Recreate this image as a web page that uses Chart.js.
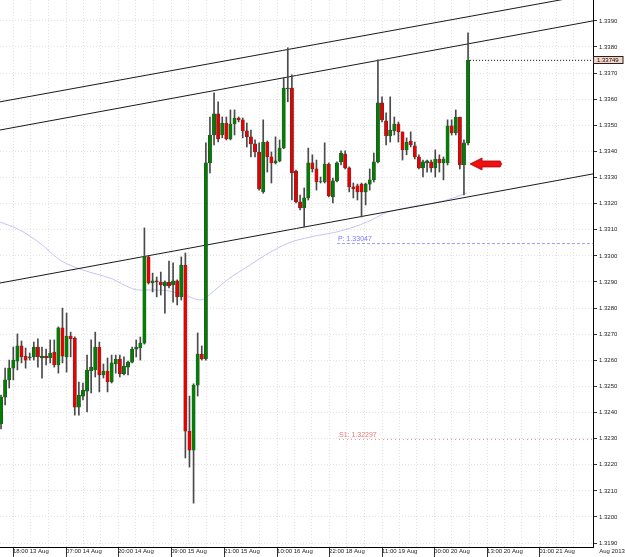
<!DOCTYPE html>
<html>
<head>
<meta charset="utf-8">
<script src="https://cdn.jsdelivr.net/npm/chart.js@4.4.0/dist/chart.umd.min.js"></script>
<style>
  body { margin: 0; background: #fff; }
</style>
</head>
<body>
<canvas id="myChart" width="625" height="557"></canvas>
<script>
// hourly EURUSD-like candles
const opens = [1.32356,1.32459,1.32525,1.32570,1.32597,1.32655,1.32616,1.32609,1.32613,1.32651,
  1.32609,1.32616,1.32609,1.32632,1.32582,1.32724,1.32613,1.32693,1.32685,1.32421,
  1.32463,1.32482,1.32559,1.32563,1.32651,1.32544,1.32559,1.32517,1.32586,1.32605,
  1.32548,1.32574,1.32593,1.32643,1.32647,1.32666,1.32996,1.32896,1.32904,1.32900,
  1.32885,1.32900,1.32889,1.32904,1.32843,1.32965,1.32329,1.32256,1.32505,1.32624,
  1.32605,1.33356,1.33463,1.33544,1.33463,1.33509,1.33448,1.33505,1.33528,1.33521,
  1.33479,1.33456,1.33429,1.33398,1.33245,1.33436,1.33379,1.33356,1.33364,1.33413,
  1.33639,1.33643,1.33325,1.33207,1.33184,1.33222,1.33356,1.33333,1.33283,1.33283,
  1.33352,1.33226,1.33287,1.33360,1.33390,1.33337,1.33264,1.33268,1.33275,1.33245,
  1.33275,1.33291,1.33360,1.33586,1.33517,1.33459,1.33479,1.33505,1.33475,1.33406,
  1.33440,1.33421,1.33379,1.33337,1.33356,1.33360,1.33337,1.33371,1.33356,1.33356,
  1.33498,1.33471,1.33532,1.33348,1.33433]
const closes = [1.32459,1.32525,1.32570,1.32601,1.32655,1.32613,1.32601,1.32613,1.32651,1.32613,
  1.32616,1.32609,1.32628,1.32582,1.32724,1.32616,1.32693,1.32682,1.32421,1.32467,
  1.32486,1.32563,1.32574,1.32651,1.32544,1.32559,1.32517,1.32590,1.32605,1.32548,
  1.32578,1.32593,1.32643,1.32651,1.32666,1.32996,1.32896,1.32904,1.32900,1.32889,
  1.32900,1.32885,1.32904,1.32843,1.32965,1.32329,1.32256,1.32505,1.32624,1.32605,
  1.33356,1.33463,1.33544,1.33448,1.33509,1.33448,1.33505,1.33528,1.33521,1.33479,
  1.33456,1.33429,1.33398,1.33256,1.33436,1.33379,1.33356,1.33364,1.33413,1.33643,
  1.33643,1.33318,1.33207,1.33184,1.33222,1.33356,1.33333,1.33283,1.33285,1.33352,
  1.33230,1.33287,1.33356,1.33394,1.33337,1.33264,1.33256,1.33245,1.33245,1.33275,
  1.33291,1.33360,1.33586,1.33521,1.33459,1.33482,1.33505,1.33475,1.33406,1.33436,
  1.33425,1.33379,1.33337,1.33360,1.33364,1.33337,1.33371,1.33356,1.33371,1.33498,
  1.33471,1.33532,1.33348,1.33433,1.33749]
const highs = [1.32467,1.32570,1.32601,1.32651,1.32701,1.32674,1.32647,1.32628,1.32670,1.32682,
  1.32651,1.32643,1.32678,1.32678,1.32728,1.32800,1.32781,1.32708,1.32690,1.32517,
  1.32513,1.32620,1.32678,1.32708,1.32670,1.32586,1.32609,1.32620,1.32620,1.32620,
  1.32613,1.32597,1.32651,1.32678,1.32689,1.33107,1.33000,1.32934,1.32919,1.32938,
  1.32904,1.32980,1.32973,1.32908,1.32996,1.33011,1.32463,1.32510,1.32705,1.32655,
  1.33433,1.33532,1.33624,1.33590,1.33532,1.33532,1.33559,1.33559,1.33532,1.33528,
  1.33509,1.33482,1.33444,1.33433,1.33521,1.33440,1.33398,1.33456,1.33444,1.33682,
  1.33797,1.33693,1.33329,1.33233,1.33260,1.33413,1.33387,1.33367,1.33302,1.33433,
  1.33356,1.33298,1.33360,1.33402,1.33402,1.33341,1.33279,1.33275,1.33279,1.33279,
  1.33333,1.33394,1.33751,1.33609,1.33548,1.33609,1.33532,1.33513,1.33475,1.33452,
  1.33475,1.33436,1.33387,1.33367,1.33367,1.33367,1.33406,1.33387,1.33379,1.33521,
  1.33521,1.33559,1.33532,1.33444,1.33854]
const lows = [1.32337,1.32429,1.32494,1.32525,1.32563,1.32590,1.32570,1.32601,1.32601,1.32574,
  1.32532,1.32582,1.32590,1.32574,1.32551,1.32590,1.32555,1.32613,1.32390,1.32390,
  1.32448,1.32402,1.32475,1.32536,1.32479,1.32532,1.32479,1.32513,1.32551,1.32536,
  1.32544,1.32544,1.32590,1.32613,1.32601,1.32662,1.32892,1.32862,1.32843,1.32850,
  1.32781,1.32877,1.32823,1.32812,1.32831,1.32226,1.32191,1.32053,1.32463,1.32601,
  1.32601,1.33318,1.33425,1.33436,1.33452,1.33444,1.33444,1.33463,1.33513,1.33452,
  1.33417,1.33379,1.33379,1.33252,1.33240,1.33321,1.33279,1.33352,1.33360,1.33410,
  1.33590,1.33214,1.33203,1.33176,1.33111,1.33214,1.33321,1.33252,1.33279,1.33279,
  1.33226,1.33203,1.33283,1.33348,1.33333,1.33245,1.33222,1.33214,1.33149,1.33195,
  1.33252,1.33283,1.33356,1.33513,1.33425,1.33436,1.33463,1.33436,1.33367,1.33387,
  1.33417,1.33371,1.33333,1.33302,1.33321,1.33321,1.33302,1.33321,1.33291,1.33348,
  1.33463,1.33463,1.33333,1.33233,1.33425]

// moving average (light lavender curve), sampled points: bar position / price
const maPos = [-0.3, 4.6, 9.5, 14.4, 20, 26.6, 33.9, 38.8, 44.9, 48.6, 52.2, 55.2, 60.8, 64.5, 70.1, 75.4, 82.8, 89.4, 93.8, 99.9, 107.9, 113.8]
const maValues = [1.33130, 1.33099, 1.33049, 1.32984, 1.32946, 1.32915, 1.32869, 1.32869, 1.32850, 1.32831, 1.32869,
  1.32908, 1.32965, 1.33003, 1.33049, 1.33072, 1.33095, 1.33130, 1.33164, 1.33187, 1.33210, 1.33241]

// channel lines: [start bar, start price, end bar, end price]
const channelTop = [-0.25, 1.33590, 144.5, 1.34003]
const channelMid = [-0.25, 1.33482, 144.5, 1.33900]
const channelLow = [-0.25, 1.32896, 144.5, 1.33314]

const pivot = 1.33047
const support1 = 1.32297
const pivotFrom = 82
const support1From = 82.5

const xLabels = ['18:00 13 Aug', '07:00 14 Aug', '20:00 14 Aug', '09:00 15 Aug', '21:00 15 Aug', '10:00 16 Aug',
  '22:00 18 Aug', '11:00 19 Aug', '00:00 20 Aug', '13:00 20 Aug', '01:00 21 Aug', 'Aug 2013']
const xLabelPos = [2.93, 15.87, 28.56, 41.5, 54.44, 67.38, 80.08, 93.02, 105.7, 118.65, 131.35, 146.0]

const lastBar = opens.length - 1
const lastPrice = closes[lastBar]

// ticks: each label plus two dotted grid lines between labels
let xTicks = []
let xTickText = []
let xTickMain = []
for (let k = 0; k < xLabelPos.length - 1; k++) {
  let step = k < xLabelPos.length - 2 ? xLabelPos[k + 1] - xLabelPos[k] : xLabelPos[k] - xLabelPos[k - 1]
  for (let j = 0; j < 3; j++) {
    xTicks.push(xLabelPos[k] + step * j / 3)
    xTickText.push(j == 0 ? xLabels[k] : '')
    xTickMain.push(j == 0)
  }
}
xTicks.push(xLabelPos[xLabelPos.length - 1])
xTickText.push(xLabels[xLabels.length - 1])
xTickMain.push(false)

const bodies = opens.map((o, i) => ({ x: i, y: [o, closes[i]] }))
const wicks = lows.map((l, i) => ({ x: i, y: [l, highs[i]] }))
const bodyColors = opens.map((o, i) => closes[i] >= o ? '#008000' : '#ea0000')

const seg = a => [{ x: a[0], y: a[1] }, { x: a[2], y: a[3] }]

Chart.defaults.font.family = "'Liberation Sans', Arial, sans-serif"

const overlay = {
  id: 'overlay',
  afterDatasetsDraw(chart) {
    const ctx = chart.ctx
    const x = chart.scales.x
    const y = chart.scales.y
    ctx.save()
    ctx.font = "7px 'Liberation Sans', Arial, sans-serif"
    ctx.textBaseline = 'bottom'
    ctx.fillStyle = '#7878ff'
    ctx.fillText('P: ' + pivot.toFixed(5), x.getPixelForValue(pivotFrom) + 1, y.getPixelForValue(pivot) - 1)
    ctx.fillStyle = '#f07878'
    ctx.fillText('S1: ' + support1.toFixed(5), x.getPixelForValue(support1From), y.getPixelForValue(support1) - 1)

    // red arrow pointing at the last hours
    let ax = x.getPixelForValue(lastBar) + 2
    let ay = y.getPixelForValue(1.33352)
    ctx.beginPath()
    ctx.moveTo(ax, ay)
    ctx.lineTo(ax + 12, ay - 6)
    ctx.lineTo(ax + 12, ay - 3)
    ctx.lineTo(ax + 30, ay - 3)
    ctx.quadraticCurveTo(ax + 33, ay, ax + 30, ay + 3)
    ctx.lineTo(ax + 12, ay + 3)
    ctx.lineTo(ax + 12, ay + 6)
    ctx.closePath()
    ctx.fillStyle = '#ee1111'
    ctx.fill()
    ctx.strokeStyle = '#b00000'
    ctx.lineWidth = 0.8
    ctx.stroke()
    ctx.restore()
  },
  afterDraw(chart) {
    const ctx = chart.ctx
    const y = chart.scales.y
    let py = Math.round(y.getPixelForValue(lastPrice))
    ctx.save()
    ctx.fillStyle = '#f8d2c6'
    ctx.fillRect(594, py - 3.5, 29, 7)
    ctx.strokeStyle = '#222'
    ctx.lineWidth = 1
    ctx.strokeRect(593.5, py - 3.5, 29.5, 7)
    ctx.fillStyle = '#111'
    ctx.font = "6px 'Liberation Sans', Arial, sans-serif"
    ctx.textBaseline = 'middle'
    ctx.fillText(lastPrice.toFixed(5), 597, py + 0.5)
    ctx.restore()
  }
}

new Chart(document.getElementById('myChart'), {
  type: 'bar',
  data: {
    datasets: [
      { type: 'bar', data: bodies, backgroundColor: bodyColors, borderColor: '#3a3a3a', borderWidth: 0.5,
        borderSkipped: false, barThickness: 3.3, grouped: false, order: 1 },
      { type: 'bar', data: wicks, backgroundColor: '#4a4a4a', borderWidth: 0, barThickness: 1,
        grouped: false, order: 2 },
      { type: 'line', data: maPos.map((p, i) => ({ x: p, y: maValues[i] })), borderColor: '#c4c4f4',
        borderWidth: 1, pointRadius: 0, cubicInterpolationMode: 'monotone', order: 6 },
      { type: 'line', data: seg(channelTop), borderColor: '#1a1a1a', borderWidth: 1, pointRadius: 0, order: 4 },
      { type: 'line', data: seg(channelMid), borderColor: '#1a1a1a', borderWidth: 1, pointRadius: 0, order: 4 },
      { type: 'line', data: seg(channelLow), borderColor: '#1a1a1a', borderWidth: 1, pointRadius: 0, order: 4 },
      { type: 'line', data: [{ x: pivotFrom, y: pivot }, { x: 144.5, y: pivot }], borderColor: '#9a9aff',
        borderWidth: 1, borderDash: [3, 2], pointRadius: 0, order: 5 },
      { type: 'line', data: [{ x: support1From, y: support1 }, { x: 144.5, y: support1 }], borderColor: '#f08c8c',
        borderWidth: 1, borderDash: [1, 3], pointRadius: 0, order: 5 },
      { type: 'line', data: [{ x: lastBar + 0.5, y: lastPrice }, { x: 144.5, y: lastPrice }], borderColor: '#000',
        borderWidth: 1, borderDash: [1, 2], pointRadius: 0, order: 5 }
    ]
  },
  options: {
    responsive: false,
    animation: false,
    devicePixelRatio: 1,
    events: [],
    layout: { padding: 0 },
    plugins: { legend: { display: false }, tooltip: { enabled: false } },
    scales: {
      x: {
        type: 'linear', position: 'bottom', min: -0.25, max: 144.5, offset: false,
        afterBuildTicks: s => { s.ticks = xTicks.map(v => ({ value: v })) },
        afterFit: s => { s.height = 10; s.paddingLeft = 0; s.paddingRight = 0 },
        ticks: { autoSkip: false, maxRotation: 0, minRotation: 0, align: 'start', padding: -9,
          font: { size: 6 }, color: '#222', callback: (v, i) => xTickText[i] },
        grid: {
          offset: false, tickLength: 10, lineWidth: 1,
          color: c => c.index == xTicks.length - 1 ? 'rgba(0,0,0,0)' : '#e2e2e2',
          tickColor: c => xTickMain[c.index] ? '#333' : 'rgba(0,0,0,0)'
        },
        border: { display: true, color: '#000', width: 1, dash: [1, 2] }
      },
      y: {
        type: 'linear', position: 'right', min: 1.31885, max: 1.33980, beginAtZero: false,
        afterFit: s => { s.width = 32; s.paddingTop = 0; s.paddingBottom = 0 },
        ticks: { stepSize: 0.001, includeBounds: false, padding: 2, font: { size: 6 }, color: '#222',
          callback: v => v.toFixed(4) },
        grid: { color: '#e2e2e2', tickColor: '#333', tickLength: 4, lineWidth: 1 },
        border: { display: true, color: '#000', width: 1, dash: [1, 2] }
      }
    }
  },
  plugins: [overlay]
})
</script>
</body>
</html>
